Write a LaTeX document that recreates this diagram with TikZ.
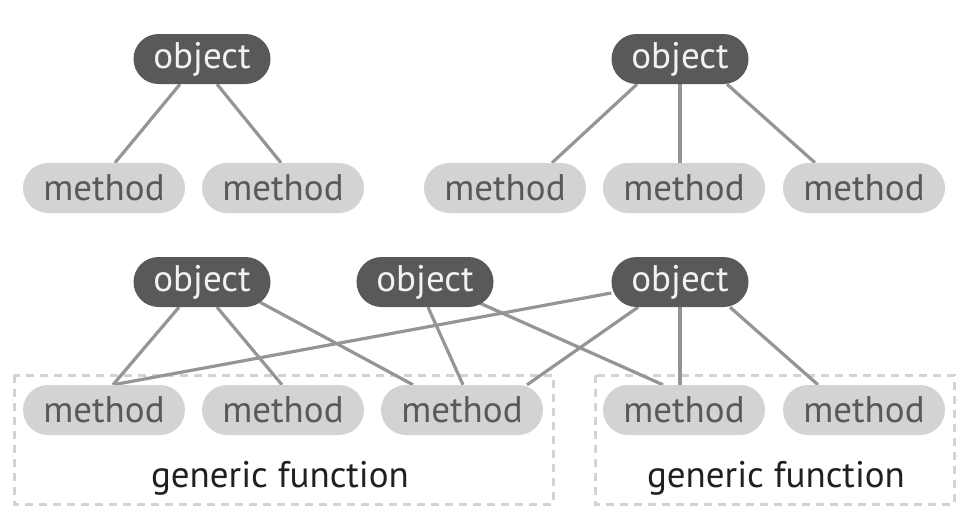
\documentclass[tikz,border=0pt]{standalone}
\usepackage{fontspec}
\setmainfont{PT Sans}
\usetikzlibrary{backgrounds}
\definecolor{objfill}{HTML}{58595B}
\definecolor{objtext}{HTML}{F1F2F2}
\definecolor{methfill}{HTML}{D1D3D4}
\definecolor{methtext}{HTML}{58595B}
\definecolor{linkgray}{HTML}{939598}
\definecolor{boxgray}{HTML}{D1D3D4}
\definecolor{gentext}{HTML}{231F20}

\begin{document}
\begin{tikzpicture}[x=1pt, y=-1pt,
        objnode/.style={rectangle, rounded corners=25pt, fill=objfill, text=objtext, minimum width=137pt, minimum height=50pt, inner sep=0pt, font=\fontsize{37}{40}\selectfont},
        methnode/.style={rectangle, rounded corners=25pt, fill=methfill, text=methtext, minimum width=162pt, minimum height=50pt, inner sep=0pt, font=\fontsize{37}{40}\selectfont},
        linkline/.style={draw=linkgray, line width=3.2pt},
        groupbox/.style={draw=boxgray, line width=3pt, dash pattern=on 8pt off 6pt},
        genlabel/.style={text=gentext, anchor=base, inner sep=0pt, font=\fontsize{37}{42}\selectfont}]
        \useasboundingbox (0,0) rectangle (970,522);

        \node[objnode] (ObjOne) at (202,59) {object};
        \node[objnode] (ObjTwo) at (680,59) {object};
        \node[methnode] (MethOne) at (104,188) {method};
        \node[methnode] (MethTwo) at (283,188) {method};
        \node[methnode] (MethThree) at (505,188) {method};
        \node[methnode] (MethFour) at (684,188) {method};
        \node[methnode] (MethFive) at (864,188) {method};

        \node[objnode] (ObjA) at (202,282) {object};
        \node[objnode] (ObjB) at (425,282) {object};
        \node[objnode] (ObjC) at (680,282) {object};
        \node[methnode] (GenOne) at (104,410) {method};
        \node[methnode] (GenTwo) at (283,410) {method};
        \node[methnode] (GenThree) at (462,410) {method};
        \node[methnode] (GenFour) at (684,410) {method};
        \node[methnode] (GenFive) at (864,410) {method};

        \node[genlabel] (FuncLeft) at (280,487) {generic function};
        \node[genlabel] (FuncRight) at (776,487) {generic function};

        \begin{scope}[on background layer]
            \draw[groupbox] (14,375) rectangle (553,504);
            \draw[groupbox] (595,375) rectangle (954,504);

            \draw[linkline] ([xshift=-22pt]ObjOne.south) -- ([xshift=11pt]MethOne.north);
            \draw[linkline] ([xshift=15pt]ObjOne.south) -- ([xshift=-2pt]MethTwo.north);
            \draw[linkline] ([xshift=-43pt]ObjTwo.south) -- ([xshift=47pt]MethThree.north);
            \draw[linkline] (ObjTwo.south) -- (ObjTwo.south |- MethFour.north);
            \draw[linkline] ([xshift=47pt]ObjTwo.south) -- ([xshift=-49pt]MethFive.north);

            \draw[linkline] ([xshift=-23pt]ObjA.south) -- ([xshift=9pt]GenOne.north);
            \draw[linkline] ([xshift=15pt]ObjA.south) -- ([xshift=-1pt]GenTwo.north);
            \draw[linkline] ([xshift=58pt,yshift=5pt]ObjA.south) -- ([xshift=-49pt]GenThree.north);
            \draw[linkline] ([xshift=3pt]ObjB.south) -- ([xshift=1pt]GenThree.north);
            \draw[linkline] ([xshift=55pt,yshift=4pt]ObjB.south) -- ([xshift=-21pt]GenFour.north);
            \draw[linkline] ([yshift=-11pt]ObjC.west) -- ([xshift=9pt]GenOne.north);
            \draw[linkline] ([xshift=-42pt]ObjC.south) -- ([xshift=65pt]GenThree.north);
            \draw[linkline] (ObjC.south) -- (ObjC.south |- GenFour.north);
            \draw[linkline] ([xshift=50pt]ObjC.south) -- ([xshift=-46pt]GenFive.north);
        \end{scope}

    \end{tikzpicture}
\end{document}
